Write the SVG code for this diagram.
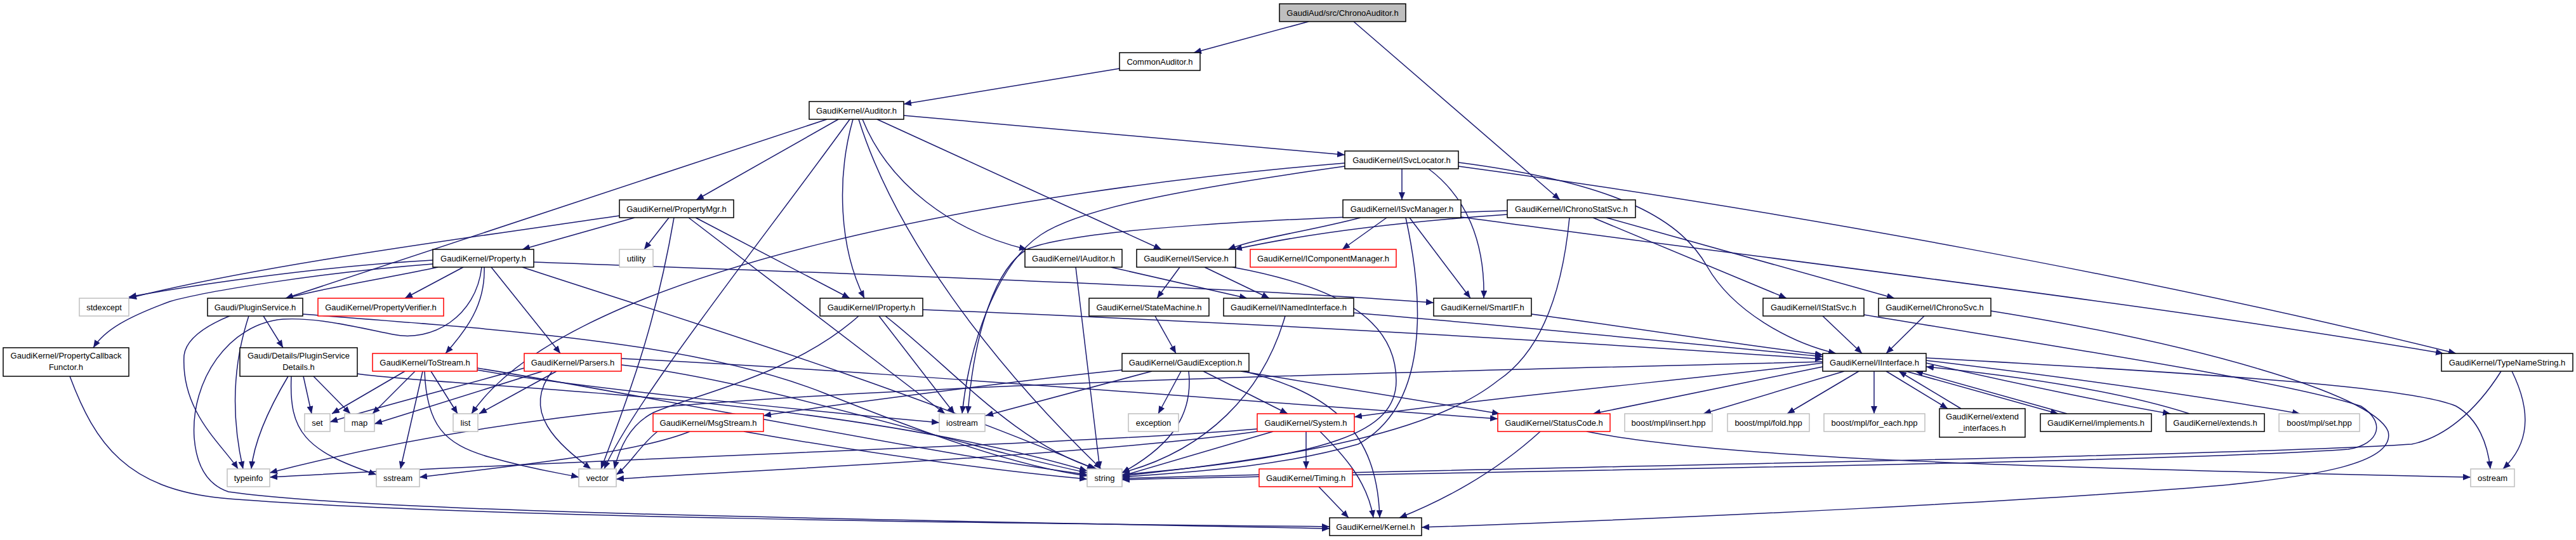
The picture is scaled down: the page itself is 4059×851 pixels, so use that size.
<svg xmlns="http://www.w3.org/2000/svg" width="4059" height="851" viewBox="0 0 4059 851">
<defs>
<marker id="a" markerWidth="12" markerHeight="10" refX="12" refY="5" orient="auto" markerUnits="userSpaceOnUse"><path d="M0,0 L12,5 L0,10 z" fill="#191970"/></marker>
<style>
.n rect{fill:#fff;stroke:#000;stroke-width:1.5}
.g rect{fill:#fff;stroke:#bfbfbf;stroke-width:1.5}
.r rect{fill:#fff;stroke:#ff0000;stroke-width:1.5}
.root rect{fill:#bfbfbf;stroke:#000;stroke-width:1.5}
text{font-family:"Liberation Sans",Arial,Helvetica,sans-serif;font-size:13px;fill:#000;text-anchor:middle}
#edges path{fill:none;stroke:#191970;stroke-width:1.5;marker-end:url(#a)}
</style>
</defs>
<rect x="0" y="0" width="4059" height="851" fill="#fff"/>
<g id="edges">
<path d="M2062,34 L1881,83"/>
<path d="M2133,34 L2458,315"/>
<path d="M1764,108 L1424,164"/>
<path d="M1303,188 L450,470"/>
<path d="M1321,188 L1097,315"/>
<path d="M1339,188 C1200,380 1000,630 952,739"/>
<path d="M1344,188 C1318,280 1322,390 1362,470"/>
<path d="M1353,188 C1410,370 1560,570 1735,739"/>
<path d="M1359,188 C1400,290 1500,365 1618,393"/>
<path d="M1382,188 L1830,393"/>
<path d="M1424,182 L2119,244"/>
<path d="M2119,257 C1600,300 900,420 743,652"/>
<path d="M2119,262 C1850,300 1700,330 1640,370 C1580,410 1530,520 1516,652"/>
<path d="M2209,266 L2209,315"/>
<path d="M2251,266 C2310,310 2340,380 2338,470"/>
<path d="M2298,256 C2560,290 2650,350 2690,420 C2730,490 2820,540 2893,557"/>
<path d="M2298,262 C2800,330 3400,440 3870,557"/>
<path d="M976,340 C700,380 400,420 203,470"/>
<path d="M1000,343 L823,393"/>
<path d="M1054,343 L1015,393"/>
<path d="M1062,343 C1035,500 1000,600 947,739"/>
<path d="M1085,343 L1489,652"/>
<path d="M1096,343 L1339,470"/>
<path d="M2144,343 C2060,365 1980,375 1935,393"/>
<path d="M2185,343 L2115,393"/>
<path d="M2215,343 C2245,480 2250,640 2140,700 C2000,740 1850,745 1768,752"/>
<path d="M2221,343 L2317,470"/>
<path d="M2302,342 C2800,410 3400,480 3850,557"/>
<path d="M2375,338 C2200,350 2050,370 1945,393"/>
<path d="M2375,332 C2000,345 1700,360 1620,392 C1570,420 1535,520 1525,652"/>
<path d="M2510,343 L2815,470"/>
<path d="M2531,343 L2985,470"/>
<path d="M2473,343 C2460,480 2420,560 2360,600 C2260,680 2050,720 1768,750"/>
<path d="M682,410 C500,420 300,450 203,468"/>
<path d="M682,416 C500,430 320,460 268,475 C200,500 165,520 147,548"/>
<path d="M690,421 C560,450 300,480 290,560 C285,650 350,700 375,739"/>
<path d="M730,421 L638,470"/>
<path d="M759,421 C750,500 680,540 619,527 C560,515 500,500 446,503 C360,510 300,600 306,690 C310,740 330,765 360,775 C600,810 1500,820 2095,833"/>
<path d="M763,421 C765,480 735,520 702,557"/>
<path d="M774,421 L883,557"/>
<path d="M823,421 C1000,480 1400,600 1725,739"/>
<path d="M841,413 C1300,430 1900,450 2259,477"/>
<path d="M1750,421 L1965,470"/>
<path d="M1695,421 L1733,739"/>
<path d="M1859,421 L1823,470"/>
<path d="M1898,421 L2000,470"/>
<path d="M1942,421 C2100,450 2200,500 2200,600 C2200,680 2100,720 1768,748"/>
<path d="M1820,498 L1853,557"/>
<path d="M2025,498 C1990,620 1900,710 1768,745"/>
<path d="M2133,493 C2400,515 2700,545 2872,562"/>
<path d="M2413,495 C2600,520 2750,545 2872,559"/>
<path d="M1454,488 C2000,510 2500,540 2872,566"/>
<path d="M1385,498 L1504,652"/>
<path d="M1395,498 C1500,580 1600,700 1728,739"/>
<path d="M1353,498 C1250,590 1100,620 1030,650 C990,670 975,710 968,739"/>
<path d="M1861,585 L1825,652"/>
<path d="M1873,585 C1880,650 1850,700 1768,745"/>
<path d="M1896,585 L2029,652"/>
<path d="M1955,585 L2363,652"/>
<path d="M1960,585 C2100,620 2170,680 2174,816"/>
<path d="M1815,585 L1553,655"/>
<path d="M1768,583 C1600,600 1300,640 1203,655"/>
<path d="M2906,585 L2684,652"/>
<path d="M2929,585 L2816,652"/>
<path d="M2953,585 L2953,652"/>
<path d="M2972,585 L3069,644"/>
<path d="M3090,644 L2992,585"/>
<path d="M3003,585 L3243,652"/>
<path d="M3257,652 L3018,585"/>
<path d="M3035,564 C3500,590 3800,610 3870,640 C3905,660 3920,700 3924,739"/>
<path d="M3035,568 C3300,600 3500,630 3624,652"/>
<path d="M3035,572 C3200,610 3350,640 3420,652"/>
<path d="M3450,652 C3350,620 3200,595 3035,578"/>
<path d="M2872,578 L2510,652"/>
<path d="M2872,572 C2700,595 2400,620 2134,657"/>
<path d="M2872,570 C2300,585 1500,600 1000,645 C800,665 600,700 425,745"/>
<path d="M2058,680 L2058,739"/>
<path d="M2080,680 C2120,720 2155,760 2164,816"/>
<path d="M2006,680 L1768,750"/>
<path d="M1981,676 C1700,700 1000,720 425,752"/>
<path d="M1981,680 C1700,720 1100,745 971,755"/>
<path d="M2078,767 L2125,816"/>
<path d="M2427,680 C2350,750 2270,790 2205,816"/>
<path d="M2500,680 C2700,720 3100,735 3893,752"/>
<path d="M1087,680 C1000,715 800,735 661,752"/>
<path d="M1172,680 C1400,720 1600,745 1713,755"/>
<path d="M1036,680 C1010,700 990,735 971,748"/>
<path d="M638,585 L523,652"/>
<path d="M654,585 L587,652"/>
<path d="M666,585 L631,739"/>
<path d="M679,585 L721,652"/>
<path d="M669,585 C672,670 700,700 770,720 C840,740 880,745 912,752"/>
<path d="M752,580 C1000,620 1500,720 1713,748"/>
<path d="M752,583 C900,610 1300,650 1480,666"/>
<path d="M826,580 C720,610 600,640 520,665"/>
<path d="M855,585 L590,668"/>
<path d="M877,585 L755,652"/>
<path d="M870,585 C820,650 880,700 931,739"/>
<path d="M979,575 C1200,600 1500,700 1713,745"/>
<path d="M979,565 C1300,580 1800,620 2360,660"/>
<path d="M392,498 C365,580 365,660 383,739"/>
<path d="M415,498 L446,548"/>
<path d="M477,495 C800,520 1100,540 1300,620 C1450,680 1600,735 1713,750"/>
<path d="M454,593 C420,650 400,700 396,739"/>
<path d="M459,593 C455,680 480,710 593,748"/>
<path d="M478,593 L491,652"/>
<path d="M494,593 L552,652"/>
<path d="M563,589 C700,610 1300,620 1713,742"/>
<path d="M110,593 C150,700 200,770 350,785 C700,815 1600,825 2095,830"/>
<path d="M3941,585 C3900,650 3850,690 3800,700 C3500,720 2200,740 1768,754"/>
<path d="M3958,585 C3990,650 3985,700 3944,739"/>
<path d="M2872,498 L2934,557"/>
<path d="M3032,498 L2972,557"/>
<path d="M2937,496 C3200,540 3600,600 3720,640 C3760,665 3750,700 3700,708 C3400,730 2200,745 1768,756"/>
<path d="M3137,490 C3450,540 3740,620 3763,680 C3775,730 3650,750 3500,765 C3200,790 2700,815 2240,831"/>
</g>
<g id="n-chronoauditor" class="root"><rect x="2016" y="6" width="199" height="28"/><text x="2115.5" y="24.5">GaudiAud/src/ChronoAuditor.h</text></g>
<g id="n-commonauditor" class="n"><rect x="1764" y="83" width="127" height="28"/><text x="1827.5" y="101.5">CommonAuditor.h</text></g>
<g id="n-auditor" class="n"><rect x="1275" y="160" width="149" height="28"/><text x="1349.5" y="178.5">GaudiKernel/Auditor.h</text></g>
<g id="n-isvclocator" class="n"><rect x="2119" y="238" width="179" height="28"/><text x="2208.5" y="256.5">GaudiKernel/ISvcLocator.h</text></g>
<g id="n-propertymgr" class="n"><rect x="976" y="315" width="180" height="28"/><text x="1066" y="333.5">GaudiKernel/PropertyMgr.h</text></g>
<g id="n-isvcmanager" class="n"><rect x="2116" y="315" width="186" height="28"/><text x="2209" y="333.5">GaudiKernel/ISvcManager.h</text></g>
<g id="n-ichronostatsvc" class="n"><rect x="2375" y="315" width="202" height="28"/><text x="2476" y="333.5">GaudiKernel/IChronoStatSvc.h</text></g>
<g id="n-property" class="n"><rect x="682" y="393" width="159" height="28"/><text x="761.5" y="411.5">GaudiKernel/Property.h</text></g>
<g id="n-utility" class="g"><rect x="976" y="393" width="53" height="28"/><text x="1002.5" y="411.5">utility</text></g>
<g id="n-iauditor" class="n"><rect x="1615" y="393" width="153" height="28"/><text x="1691.5" y="411.5">GaudiKernel/IAuditor.h</text></g>
<g id="n-iservice" class="n"><rect x="1791" y="393" width="156" height="28"/><text x="1869" y="411.5">GaudiKernel/IService.h</text></g>
<g id="n-icomponentmanager" class="r"><rect x="1970" y="393" width="230" height="28"/><text x="2085" y="411.5">GaudiKernel/IComponentManager.h</text></g>
<g id="n-stdexcept" class="g"><rect x="125" y="470" width="78" height="28"/><text x="164" y="488.5">stdexcept</text></g>
<g id="n-pluginservice" class="n"><rect x="327" y="470" width="150" height="28"/><text x="402" y="488.5">Gaudi/PluginService.h</text></g>
<g id="n-propertyverifier" class="r"><rect x="501" y="470" width="198" height="28"/><text x="600" y="488.5">GaudiKernel/PropertyVerifier.h</text></g>
<g id="n-iproperty" class="n"><rect x="1292" y="470" width="162" height="28"/><text x="1373" y="488.5">GaudiKernel/IProperty.h</text></g>
<g id="n-statemachine" class="n"><rect x="1716" y="470" width="189" height="28"/><text x="1810.5" y="488.5">GaudiKernel/StateMachine.h</text></g>
<g id="n-inamedinterface" class="n"><rect x="1928" y="470" width="205" height="28"/><text x="2030.5" y="488.5">GaudiKernel/INamedInterface.h</text></g>
<g id="n-smartif" class="n"><rect x="2259" y="470" width="154" height="28"/><text x="2336" y="488.5">GaudiKernel/SmartIF.h</text></g>
<g id="n-istatsvc" class="n"><rect x="2778" y="470" width="159" height="28"/><text x="2857.5" y="488.5">GaudiKernel/IStatSvc.h</text></g>
<g id="n-ichronosvc" class="n"><rect x="2960" y="470" width="177" height="28"/><text x="3048.5" y="488.5">GaudiKernel/IChronoSvc.h</text></g>
<g id="n-propertycallbackfunctor" class="n"><rect x="5" y="548" width="198" height="45"/><text x="104" y="565">GaudiKernel/PropertyCallback</text><text x="104" y="583">Functor.h</text></g>
<g id="n-pluginservicedetails" class="n"><rect x="378" y="548" width="185" height="45"/><text x="470.5" y="565">Gaudi/Details/PluginService</text><text x="470.5" y="583">Details.h</text></g>
<g id="n-tostream" class="r"><rect x="587" y="557" width="165" height="28"/><text x="669.5" y="575.5">GaudiKernel/ToStream.h</text></g>
<g id="n-parsers" class="r"><rect x="826" y="557" width="153" height="28"/><text x="902.5" y="575.5">GaudiKernel/Parsers.h</text></g>
<g id="n-gaudiexception" class="n"><rect x="1768" y="557" width="200" height="28"/><text x="1868" y="575.5">GaudiKernel/GaudiException.h</text></g>
<g id="n-iinterface" class="n"><rect x="2872" y="557" width="163" height="28"/><text x="2953.5" y="575.5">GaudiKernel/IInterface.h</text></g>
<g id="n-typenamestring" class="n"><rect x="3847" y="557" width="207" height="28"/><text x="3950.5" y="575.5">GaudiKernel/TypeNameString.h</text></g>
<g id="n-set" class="g"><rect x="480" y="652" width="40" height="28"/><text x="500" y="670.5">set</text></g>
<g id="n-map" class="g"><rect x="543" y="652" width="47" height="28"/><text x="566.5" y="670.5">map</text></g>
<g id="n-list" class="g"><rect x="714" y="652" width="39" height="28"/><text x="733.5" y="670.5">list</text></g>
<g id="n-msgstream" class="r"><rect x="1029" y="652" width="174" height="28"/><text x="1116" y="670.5">GaudiKernel/MsgStream.h</text></g>
<g id="n-iostream" class="g"><rect x="1480" y="652" width="72" height="28"/><text x="1516" y="670.5">iostream</text></g>
<g id="n-exception" class="g"><rect x="1778" y="652" width="79" height="28"/><text x="1817.5" y="670.5">exception</text></g>
<g id="n-system" class="r"><rect x="1981" y="652" width="153" height="28"/><text x="2057.5" y="670.5">GaudiKernel/System.h</text></g>
<g id="n-statuscode" class="r"><rect x="2360" y="652" width="177" height="28"/><text x="2448.5" y="670.5">GaudiKernel/StatusCode.h</text></g>
<g id="n-mplinsert" class="g"><rect x="2560" y="652" width="138" height="28"/><text x="2629" y="670.5">boost/mpl/insert.hpp</text></g>
<g id="n-mplfold" class="g"><rect x="2722" y="652" width="129" height="28"/><text x="2786.5" y="670.5">boost/mpl/fold.hpp</text></g>
<g id="n-mplforeach" class="g"><rect x="2874" y="652" width="159" height="28"/><text x="2953.5" y="670.5">boost/mpl/for_each.hpp</text></g>
<g id="n-extendinterfaces" class="n"><rect x="3056" y="644" width="135" height="45"/><text x="3123.5" y="661">GaudiKernel/extend</text><text x="3123.5" y="679">_interfaces.h</text></g>
<g id="n-implements" class="n"><rect x="3215" y="652" width="175" height="28"/><text x="3302.5" y="670.5">GaudiKernel/implements.h</text></g>
<g id="n-extends" class="n"><rect x="3413" y="652" width="155" height="28"/><text x="3490.5" y="670.5">GaudiKernel/extends.h</text></g>
<g id="n-mplset" class="g"><rect x="3591" y="652" width="127" height="28"/><text x="3654.5" y="670.5">boost/mpl/set.hpp</text></g>
<g id="n-typeinfo" class="g"><rect x="358" y="739" width="67" height="28"/><text x="391.5" y="757.5">typeinfo</text></g>
<g id="n-sstream" class="g"><rect x="593" y="739" width="68" height="28"/><text x="627" y="757.5">sstream</text></g>
<g id="n-vector" class="g"><rect x="912" y="739" width="59" height="28"/><text x="941.5" y="757.5">vector</text></g>
<g id="n-string" class="g"><rect x="1713" y="739" width="55" height="28"/><text x="1740.5" y="757.5">string</text></g>
<g id="n-timing" class="r"><rect x="1984" y="739" width="147" height="28"/><text x="2057.5" y="757.5">GaudiKernel/Timing.h</text></g>
<g id="n-ostream" class="g"><rect x="3893" y="739" width="69" height="28"/><text x="3927.5" y="757.5">ostream</text></g>
<g id="n-kernel" class="n"><rect x="2095" y="816" width="145" height="28"/><text x="2167.5" y="834.5">GaudiKernel/Kernel.h</text></g>
</svg>
